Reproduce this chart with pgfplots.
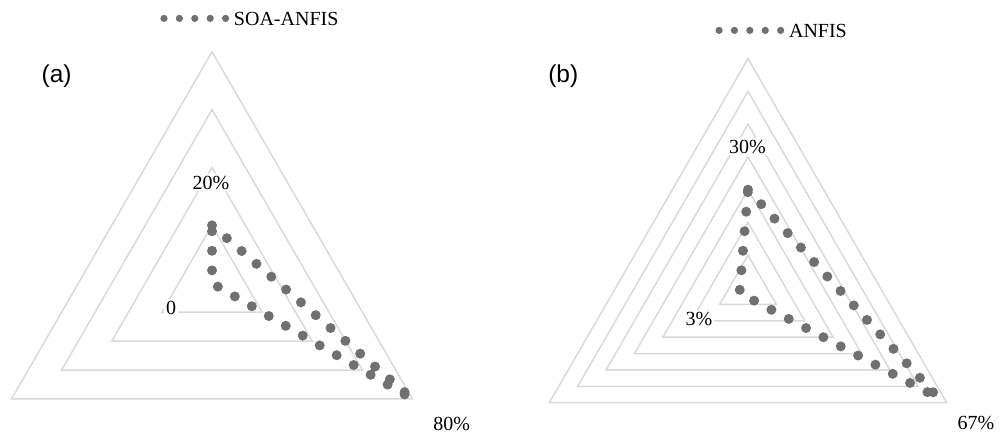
\documentclass[border=0pt]{standalone}
\usepackage{pgfplots}
\pgfplotsset{compat=1.18}
\usepackage{fontspec}
\setmainfont{Liberation Serif}
\newfontfamily\panelfont{Liberation Sans}

\definecolor{ringgray}{HTML}{D9D9D9}
\definecolor{dotgray}{HTML}{707070}

\pgfplotsset{
  radar/.style={
    scale only axis, width=501.5bp, height=216.5bp,
    hide axis, clip=false,
    at={(0,0)}, anchor=south west,
    legend style={draw=none, fill=none, inner sep=0pt, anchor=west,
      font=\fontsize{10bp}{12bp}\selectfont,
      nodes={inner sep=0pt}, /tikz/column sep=2.3bp},
    legend image code/.code={
      \draw[dotgray, line width=3.6bp, line cap=round,
            dash pattern=on 0pt off 7.7bp] (0bp,0.8bp) -- (30.9bp,0.8bp);},
  },
  ring/.style={ringgray, line width=0.75bp, line join=miter,
    data cs=polar, forget plot},
  series/.style={dotgray, line width=5bp, line cap=round, line join=round,
    dash pattern=on 0pt off 9.8bp, data cs=polar},
}
\tikzset{
  lbl/.style={fill=white, inner sep=1pt, font=\fontsize{10bp}{12bp}\selectfont},
  panel/.style={inner sep=0pt, font=\panelfont\fontsize{12.25bp}{14bp}\selectfont},
}

\begin{document}
\begin{tikzpicture}
% (a) SOA-ANFIS: three-category radar, scale 0 to 80%
\begin{axis}[radar,
  xmin=-73.26, xmax=273.32, ymin=-51.75, ymax=97.88,
  legend style={at={(rel axis cs:0.1595,0.9538)}}]
  \addplot[ring] coordinates {(90,20) (-30,20) (210,20)} -- cycle;
  \addplot[ring] coordinates {(90,40) (-30,40) (210,40)} -- cycle;
  \addplot[ring] coordinates {(90,60) (-30,60) (210,60)} -- cycle;
  \addplot[ring] coordinates {(90,80) (-30,80) (210,80)} -- cycle;
  \addplot[series] coordinates {(90,20) (-30,80) (210,0)} -- cycle;
  \addlegendentry{SOA-ANFIS}
  \node[lbl] at (rel axis cs:0.2104,0.5781) {20\%};
  \node[lbl] at (rel axis cs:0.1705,0.2887) {0};
  \node[lbl] at (rel axis cs:0.4503,0.0208) {80\%};
  \node[panel] at (rel axis cs:0.0565,0.8245) {(a)};
\end{axis}
% (b) ANFIS: three-category radar, scale 0 to 70%
\begin{axis}[radar,
  xmin=-228.26, xmax=77.82, ymin=-44.25, ymax=87.89,
  legend style={at={(rel axis cs:0.7129,0.9261)}}]
  \addplot[ring] coordinates {(90,10) (-30,10) (210,10)} -- cycle;
  \addplot[ring] coordinates {(90,20) (-30,20) (210,20)} -- cycle;
  \addplot[ring] coordinates {(90,30) (-30,30) (210,30)} -- cycle;
  \addplot[ring] coordinates {(90,40) (-30,40) (210,40)} -- cycle;
  \addplot[ring] coordinates {(90,50) (-30,50) (210,50)} -- cycle;
  \addplot[ring] coordinates {(90,60) (-30,60) (210,60)} -- cycle;
  \addplot[ring] coordinates {(90,70) (-30,70) (210,70)} -- cycle;
  \addplot[series] coordinates {(90,30) (-30,67) (210,3)} -- cycle;
  \addlegendentry{ANFIS}
  \node[lbl] at (rel axis cs:0.7451,0.6612) {30\%};
  \node[lbl] at (rel axis cs:0.6969,0.2633) {3\%};
  \node[lbl] at (rel axis cs:0.9731,0.0238) {67\%};
  \node[panel] at (rel axis cs:0.5616,0.8245) {(b)};
\end{axis}
\pgfresetboundingbox
\path[use as bounding box] (0,0) rectangle (501.5bp,216.5bp);
\end{tikzpicture}
\end{document}
